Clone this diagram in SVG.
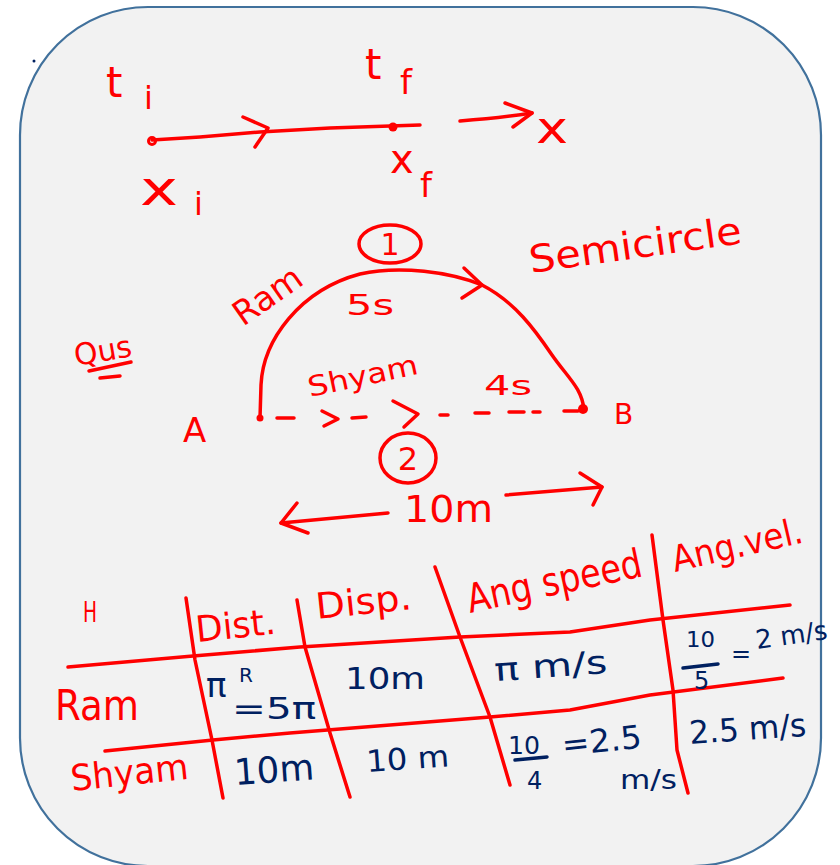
<svg xmlns="http://www.w3.org/2000/svg" width="840" height="865" viewBox="0 0 840 865">
<style>
.r{fill:#ff0000;font-family:"DejaVu Sans","Liberation Sans",sans-serif}
.n{fill:#002060;font-family:"DejaVu Sans","Liberation Sans",sans-serif}
.ln{stroke:#ff0000;stroke-width:3.5;fill:none;stroke-linecap:round;stroke-linejoin:round}
</style>
<rect width="840" height="865" fill="#ffffff"/>
<rect x="20" y="7" width="801" height="859" rx="128" ry="128" fill="#f2f2f2" stroke="#41719c" stroke-width="2.2"/>
<circle cx="34" cy="61" r="1.5" fill="#002060"/>

<g id="motion">
  <text class="r" x="106" y="97" font-size="42">t</text>
  <text class="r" x="144" y="109" font-size="32">i</text>
  <text class="r" x="365" y="79" font-size="42">t</text>
  <text class="r" x="400" y="94" font-size="34">f</text>
  <text class="r" x="140" y="205" font-size="48" textLength="38" lengthAdjust="spacingAndGlyphs">x</text>
  <text class="r" x="194" y="215" font-size="32">i</text>
  <text class="r" x="390" y="173" font-size="40">x</text>
  <text class="r" x="420" y="197" font-size="34">f</text>
  <text class="r" x="536" y="143" font-size="44" textLength="32" lengthAdjust="spacingAndGlyphs">x</text>
</g>

<g id="connectors">
  <path class="ln" d="M152,140 L200,137 L260,132 L330,128 L420,125"/>
  <circle cx="152" cy="141" r="3.5" fill="none" stroke="#ff0000" stroke-width="3"/>
  <circle cx="393" cy="127" r="4.5" fill="#ff0000"/>
  <path class="ln" d="M243,117 L268,128 L255,147"/>
  <path class="ln" d="M460,121 Q500,118 532,113"/>
  <path class="ln" d="M505,103 L532,113 L513,127"/>

  <path class="ln" d="M260,418 L261,385 C263,340 300,290 360,274 C400,265 450,272 482,285 C515,302 535,330 552,355 C568,378 582,388 584,410"/>
  <path class="ln" d="M464,268 L482,285 L462,298"/>
  <circle cx="260" cy="418" r="3.5" fill="#ff0000"/>
  <circle cx="583" cy="409" r="5" fill="#ff0000"/>
  <path class="ln" d="M277,418 L294,418 M352,418 L366,417 M440,415 L448,415 M475,413 L489,413 M509,412 L524,412 M533,412 L540,412 M564,411 L578,411"/>
  <path class="ln" d="M322,411 L338,419 L324,426"/>
  <path class="ln" d="M393,401 L418,414 L404,427"/>

  <path class="ln" d="M388,513 L281,523"/>
  <path class="ln" d="M297,503 L281,523 L308,533"/>
  <path class="ln" d="M506,495 L602,487"/>
  <path class="ln" d="M580,473 L602,487 L593,505"/>

  <path class="ln" d="M89,371 L131,362 M100,378 L120,376"/>

  <path class="ln" d="M68,667 L193,656 L300,647 L460,637 L570,632 L650,620 L790,605"/>
  <path class="ln" d="M105,751 L213,740 L290,733 L490,717 L570,710 L650,695 L783,678"/>
  <path class="ln" d="M186,598 L195,660 L212,740 L223,798"/>
  <path class="ln" d="M297,600 L305,647 L330,733 L350,797"/>
  <path class="ln" d="M435,567 L460,637 L490,717 L510,785"/>
  <path class="ln" d="M652,535 L663,620 L673,690 L677,750 L688,793"/>
</g>

<g id="semicircle">
  <ellipse cx="390" cy="244" rx="31" ry="19" class="ln"/>
  <text class="r" x="390" y="255" font-size="30" text-anchor="middle">1</text>
  <text class="r" x="531" y="273" font-size="38" textLength="214" lengthAdjust="spacingAndGlyphs" transform="rotate(-8 531 273)">Semicircle</text>
  <text class="r" x="243" y="327" font-size="34" textLength="76" lengthAdjust="spacingAndGlyphs" transform="rotate(-35 243 327)">Ram</text>
  <text class="r" x="346" y="315" font-size="28" textLength="48" lengthAdjust="spacingAndGlyphs">5s</text>
  <text class="r" x="76" y="366" font-size="30" textLength="58" lengthAdjust="spacingAndGlyphs" transform="rotate(-10 76 366)">Qus</text>
  <text class="r" x="310" y="397" font-size="28" textLength="112" lengthAdjust="spacingAndGlyphs" transform="rotate(-12 310 397)">Shyam</text>
  <text class="r" x="484" y="395" font-size="26" textLength="48" lengthAdjust="spacingAndGlyphs">4s</text>
  <text class="r" x="183" y="442" font-size="34">A</text>
  <text class="r" x="614" y="424" font-size="28">B</text>
  <ellipse cx="408" cy="458" rx="28" ry="25" class="ln"/>
  <text class="r" x="408" y="470" font-size="32" text-anchor="middle">2</text>
  <text class="r" x="404" y="522" font-size="38" textLength="89" lengthAdjust="spacingAndGlyphs">10m</text>
</g>

<g id="table">
  <text class="r" x="83" y="622" font-size="28" textLength="14" lengthAdjust="spacingAndGlyphs">H</text>
  <text class="r" x="197" y="642" font-size="36" textLength="80" lengthAdjust="spacingAndGlyphs" transform="rotate(-6 197 642)">Dist.</text>
  <text class="r" x="317" y="619" font-size="36" textLength="96" lengthAdjust="spacingAndGlyphs" transform="rotate(-6 317 619)">Disp.</text>
  <text class="r" x="470" y="613" font-size="40" textLength="178" lengthAdjust="spacingAndGlyphs" transform="rotate(-12 470 613)">Ang speed</text>
  <text class="r" x="675" y="572" font-size="36" textLength="133" lengthAdjust="spacingAndGlyphs" transform="rotate(-13 675 572)">Ang.vel.</text>
  <text class="r" x="55" y="720" font-size="42" textLength="84" lengthAdjust="spacingAndGlyphs">Ram</text>
  <text class="r" x="72" y="791" font-size="36" textLength="118" lengthAdjust="spacingAndGlyphs" transform="rotate(-6 72 791)">Shyam</text>

  <text class="n" x="206" y="697" font-size="34">π</text>
  <text class="n" x="239" y="682" font-size="20">R</text>
  <text class="n" x="232" y="719" font-size="30" textLength="84" lengthAdjust="spacingAndGlyphs">=5π</text>
  <text class="n" x="345" y="689" font-size="30" textLength="80" lengthAdjust="spacingAndGlyphs">10m</text>
  <text class="n" x="495" y="681" font-size="32" textLength="113" lengthAdjust="spacingAndGlyphs" transform="rotate(-4 495 681)">π m/s</text>
  <text class="n" x="686" y="647" font-size="22" textLength="29" lengthAdjust="spacingAndGlyphs">10</text>
  <path d="M683,668 L718,664" stroke="#002060" stroke-width="3.5" stroke-linecap="round"/>
  <text class="n" x="694" y="689" font-size="24">5</text>
  <text class="n" x="731" y="662" font-size="24">=</text>
  <text class="n" x="757" y="649" font-size="26" textLength="72" lengthAdjust="spacingAndGlyphs" transform="rotate(-8 757 649)">2 m/s</text>

  <text class="n" x="235" y="785" font-size="36" textLength="80" lengthAdjust="spacingAndGlyphs" transform="rotate(-4 235 785)">10m</text>
  <text class="n" x="367" y="772" font-size="30" textLength="83" lengthAdjust="spacingAndGlyphs" transform="rotate(-4 367 772)">10 m</text>
  <text class="n" x="508" y="754" font-size="24" textLength="32" lengthAdjust="spacingAndGlyphs">10</text>
  <path d="M515,760 L547,757" stroke="#002060" stroke-width="3.5" stroke-linecap="round"/>
  <text class="n" x="527" y="789" font-size="24">4</text>
  <text class="n" x="563" y="756" font-size="32" textLength="80" lengthAdjust="spacingAndGlyphs" transform="rotate(-6 563 756)">=2.5</text>
  <text class="n" x="620" y="789" font-size="26" textLength="57" lengthAdjust="spacingAndGlyphs">m/s</text>
  <text class="n" x="690" y="744" font-size="32" textLength="117" lengthAdjust="spacingAndGlyphs" transform="rotate(-4 690 744)">2.5 m/s</text>
</g>
</svg>
